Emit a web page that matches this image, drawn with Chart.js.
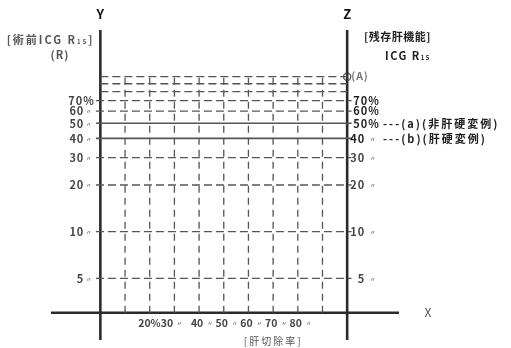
<!DOCTYPE html>
<html lang="ja">
<head>
<meta charset="UTF-8">
<title>肝切除率ノモグラム</title>
<script src="https://cdn.jsdelivr.net/npm/chart.js"></script>
<style>
  html, body { margin: 0; padding: 0; background: #fff; }
  canvas { display: block; }
</style>
</head>
<body>
<canvas id="chart" width="511" height="348"></canvas>
<script>
// 術前ICG R15 (Y) と 残存肝機能 (Z) の目盛り (%)
const gridLevels = [5, 10, 20, 30, 40, 50, 60, 70, 80, 90, 100];
const solidLevels = [40, 50];            // 40: (b) 肝硬変例, 50: (a) 非肝硬変例
const yTicks = [5, 10, 20, 30, 40, 50, 60, 70];
const yTickLabels = ['5', '10', '20', '30', '40', '50', '60', '70%'];
const zTickLabels = ['5', '10', '20', '30', '40', '50%', '60%', '70%'];
// 肝切除率 (X) (%)
const cutLines = [10, 20, 30, 40, 50, 60, 70, 80, 90];
const cutLabels = [20, 30, 40, 50, 60, 70, 80];
// (A)
const pointA = { x: 100, y: 100 };

const FONT = '"Noto Sans CJK JP", "DejaVu Sans", sans-serif';
const GRID = '#555';
const AXIS = '#2b2b2b';
const TEXT = '#444';

const datasets = [];

// horizontal lines between Y and Z
gridLevels.forEach(v => {
  const ticked = yTicks.includes(v);
  const solid = solidLevels.includes(v);
  datasets.push({
    data: [{ x: ticked ? -1.8 : 0, y: v }, { x: ticked ? 101.8 : 100, y: v }],
    borderColor: GRID,
    borderWidth: solid ? 1.6 : 1.3,
    borderDash: solid ? [] : [8, 4]
  });
});

// vertical dashed lines (肝切除率)
cutLines.forEach(c => {
  datasets.push({
    data: [{ x: c, y: 3 }, { x: c, y: 100 }],
    borderColor: GRID,
    borderWidth: 1.3,
    borderDash: [7, 5]
  });
});

// Y, Z and X axes
datasets.push({ data: [{ x: 0, y: 2 }, { x: 0, y: 200 }], borderColor: AXIS, borderWidth: 2.6 });
datasets.push({ data: [{ x: 100, y: 2 }, { x: 100, y: 200 }], borderColor: AXIS, borderWidth: 2.6 });
datasets.push({ data: [{ x: -20, y: 3 }, { x: 121, y: 3 }], borderColor: AXIS, borderWidth: 2.6 });

// point (A)
datasets.push({
  data: [pointA],
  showLine: false,
  pointRadius: 3.6,
  pointBackgroundColor: '#fff',
  pointBorderColor: '#555',
  pointBorderWidth: 1.3
});

function font(size, weight) {
  return `${weight || 'bold'} ${size}px ${FONT}`;
}

// draw a row of text pieces (for subscripts like R15)
function drawRuns(ctx, runs, x, y, align) {
  let total = 0;
  runs.forEach(r => { ctx.font = font(r.size, r.weight); r.w = ctx.measureText(r.t).width; total += r.w; });
  let cx = align === 'right' ? x - total : align === 'center' ? x - total / 2 : x;
  ctx.textAlign = 'left';
  runs.forEach(r => {
    ctx.font = font(r.size, r.weight);
    ctx.fillText(r.t, cx, y + (r.dy || 0));
    cx += r.w;
  });
}

const labelPlugin = {
  id: 'nomogramLabels',
  afterDatasetsDraw(chart) {
    const { ctx, scales: { x, y } } = chart;
    const px = v => x.getPixelForValue(v);
    const py = v => y.getPixelForValue(v);
    ctx.save();
    ctx.textBaseline = 'middle';

    // axis letters
    ctx.fillStyle = '#111';
    ctx.font = font(13);
    ctx.textAlign = 'center';
    ctx.fillText('Y', px(0), 14);
    ctx.fillText('Z', px(100), 14);
    ctx.fillStyle = '#555';
    ctx.font = font(12, 'normal');
    ctx.fillText('X', 428, py(3));

    // (A)
    ctx.fillStyle = '#777';
    ctx.font = font(10.5);
    ctx.textAlign = 'left';
    ctx.letterSpacing = '1px';
    ctx.fillText('(A)', px(100) + 4, py(pointA.y) - 1);

    // Y titles
    ctx.fillStyle = '#555';
    ctx.letterSpacing = '2px';
    drawRuns(ctx, [
      { t: '[術前ICG R', size: 11 },
      { t: '15', size: 6, dy: 2 },
      { t: ']', size: 11 }
    ], px(0) - 6, 40, 'right');
    ctx.letterSpacing = '1px';
    ctx.font = font(11);
    ctx.textAlign = 'center';
    ctx.fillText('(R)', 60, 55);

    // Z titles
    ctx.fillStyle = '#1e1e1e';
    ctx.font = font(11);
    ctx.letterSpacing = '0.5px';
    ctx.textAlign = 'left';
    ctx.fillText('[残存肝機能]', 364, 37);
    ctx.letterSpacing = '1.5px';
    drawRuns(ctx, [
      { t: 'ICG R', size: 11 },
      { t: '15', size: 6, dy: 2 }
    ], 385, 56, 'left');

    // Y tick labels
    ctx.letterSpacing = '1px';
    yTicks.forEach((v, i) => {
      const lab = yTickLabels[i];
      ctx.fillStyle = TEXT;
      ctx.font = font(11);
      if (lab.endsWith('%')) {
        ctx.textAlign = 'left';
        ctx.fillText(lab, px(0) - 32, py(v));
      } else {
        ctx.textAlign = 'right';
        ctx.fillText(lab, px(0) - 16, py(v));
        ctx.font = font(6, 'normal');
        ctx.textAlign = 'center';
        ctx.fillText('〃', px(0) - 11, py(v));
      }
    });

    // Z tick labels
    yTicks.forEach((v, i) => {
      const lab = zTickLabels[i];
      ctx.fillStyle = v >= 40 ? '#1e1e1e' : TEXT;
      ctx.font = font(11);
      if (lab.endsWith('%')) {
        ctx.textAlign = 'left';
        ctx.fillText(lab, px(100) + 6, py(v));
      } else {
        ctx.textAlign = 'right';
        ctx.fillText(lab, px(100) + 18, py(v));
        ctx.font = font(6, 'normal');
        ctx.textAlign = 'center';
        ctx.fillText('〃', px(100) + 26, py(v));
      }
    });

    // legend next to the solid lines
    ctx.fillStyle = '#1e1e1e';
    ctx.font = font(11);
    ctx.letterSpacing = '2px';
    ctx.textAlign = 'left';
    ctx.fillText('---(a)(非肝硬変例)', 383, py(50));
    ctx.fillText('---(b)(肝硬変例)', 383, py(40));

    // X tick labels
    const ly = py(3) + 10;
    ctx.fillStyle = TEXT;
    ctx.letterSpacing = '0px';
    cutLabels.forEach(c => {
      ctx.font = font(10.5);
      if (c === 20) {
        ctx.textAlign = 'right';
        ctx.fillText('20%', px(20) + 11, ly);
        return;
      }
      if (c === 30) {
        ctx.textAlign = 'left';
        ctx.fillText('30', px(20) + 11, ly);
        ctx.font = font(6, 'normal');
        ctx.textAlign = 'center';
        ctx.fillText('〃', px(30) + 5, ly);
        return;
      }
      ctx.textAlign = 'center';
      ctx.fillText(String(c), px(c) - 2, ly);
      ctx.font = font(6, 'normal');
      ctx.fillText('〃', px(c) + 11, ly);
    });
    ctx.font = font(10, 'normal');
    ctx.fillStyle = '#555';
    ctx.letterSpacing = '2px';
    ctx.textAlign = 'center';
    ctx.fillText('[肝切除率]', px(70), 341);

    ctx.restore();
  }
};

new Chart(document.getElementById('chart'), {
  type: 'scatter',
  data: { datasets: datasets.map(d => Object.assign({ showLine: true, pointRadius: 0, clip: false }, d)) },
  options: {
    responsive: false,
    animation: false,
    layout: { padding: { left: 51, right: 112, top: 30, bottom: 8 } },
    plugins: { legend: { display: false }, tooltip: { enabled: false } },
    scales: {
      x: { type: 'linear', min: -20, max: 121, display: false },
      y: { type: 'logarithmic', min: 2, max: 200, display: false }
    }
  },
  plugins: [labelPlugin]
});
</script>
</body>
</html>
